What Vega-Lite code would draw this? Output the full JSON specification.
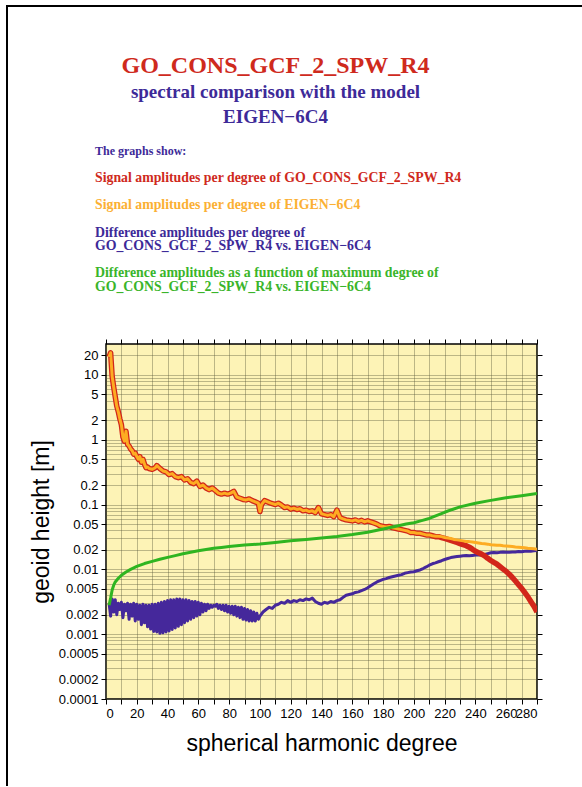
{
  "$schema": "https://vega.github.io/schema/vega-lite/v6.json",
  "background": "white",
  "padding": {"left": 6, "top": 5, "right": 0, "bottom": 0},
  "datasets": {
    "titles": [
      {"row": 0, "kind": "main", "label": "GO_CONS_GCF_2_SPW_R4"},
      {"row": 1, "kind": "sub", "label": "spectral comparison with the model"},
      {"row": 2, "kind": "sub", "label": "EIGEN−6C4"}
    ],
    "legend": [
      {"line": 0, "item": "intro", "label": "The graphs show:"},
      {"line": 2, "item": "go", "label": "Signal amplitudes per degree of GO_CONS_GCF_2_SPW_R4"},
      {"line": 4, "item": "eigen", "label": "Signal amplitudes per degree of EIGEN−6C4"},
      {"line": 6, "item": "diff", "label": "Difference amplitudes per degree of"},
      {"line": 7, "item": "diff", "label": "GO_CONS_GCF_2_SPW_R4 vs. EIGEN−6C4"},
      {"line": 9, "item": "cum", "label": "Difference amplitudes as a function of maximum degree of"},
      {"line": 10, "item": "cum", "label": "GO_CONS_GCF_2_SPW_R4 vs. EIGEN−6C4"}
    ],
    "go": [
      {"n":2,"v":19},{"n":3,"v":22},{"n":4,"v":9.5},{"n":5,"v":6.5},{"n":6,"v":4.6},{"n":7,"v":3.3},{"n":8,"v":2.7},{"n":9,"v":2.1},{"n":10,"v":1.7},{"n":11,"v":1.1},{"n":12,"v":0.95},{"n":13,"v":1.35},{"n":14,"v":0.85},{"n":15,"v":0.8},{"n":16,"v":0.72},{"n":17,"v":0.68},{"n":18,"v":0.6},{"n":19,"v":0.62},{"n":20,"v":0.55},{"n":21,"v":0.5},{"n":22,"v":0.55},{"n":23,"v":0.45},{"n":24,"v":0.5},{"n":25,"v":0.42},{"n":26,"v":0.37},{"n":27,"v":0.38},{"n":28,"v":0.36},{"n":30,"v":0.35},{"n":32,"v":0.37},{"n":33,"v":0.4},{"n":35,"v":0.36},{"n":37,"v":0.33},{"n":39,"v":0.32},{"n":41,"v":0.29},{"n":43,"v":0.3},{"n":45,"v":0.27},{"n":47,"v":0.26},{"n":49,"v":0.27},{"n":51,"v":0.24},{"n":53,"v":0.25},{"n":55,"v":0.22},{"n":57,"v":0.21},{"n":59,"v":0.23},{"n":61,"v":0.19},{"n":63,"v":0.2},{"n":65,"v":0.18},{"n":67,"v":0.17},{"n":69,"v":0.18},{"n":71,"v":0.165},{"n":73,"v":0.15},{"n":75,"v":0.145},{"n":77,"v":0.15},{"n":79,"v":0.145},{"n":81,"v":0.15},{"n":83,"v":0.16},{"n":85,"v":0.13},{"n":87,"v":0.125},{"n":89,"v":0.12},{"n":91,"v":0.118},{"n":93,"v":0.122},{"n":95,"v":0.115},{"n":97,"v":0.11},{"n":99,"v":0.105},{"n":100,"v":0.078},{"n":101,"v":0.1},{"n":103,"v":0.115},{"n":105,"v":0.11},{"n":107,"v":0.105},{"n":110,"v":0.1},{"n":112,"v":0.105},{"n":114,"v":0.098},{"n":116,"v":0.09},{"n":118,"v":0.092},{"n":120,"v":0.085},{"n":122,"v":0.088},{"n":124,"v":0.084},{"n":126,"v":0.086},{"n":128,"v":0.08},{"n":130,"v":0.082},{"n":132,"v":0.078},{"n":134,"v":0.08},{"n":136,"v":0.075},{"n":138,"v":0.09},{"n":140,"v":0.072},{"n":142,"v":0.07},{"n":144,"v":0.068},{"n":146,"v":0.07},{"n":148,"v":0.065},{"n":150,"v":0.082},{"n":152,"v":0.063},{"n":154,"v":0.06},{"n":156,"v":0.058},{"n":158,"v":0.057},{"n":160,"v":0.056},{"n":162,"v":0.058},{"n":164,"v":0.055},{"n":166,"v":0.057},{"n":168,"v":0.054},{"n":170,"v":0.056},{"n":172,"v":0.054},{"n":174,"v":0.052},{"n":176,"v":0.05},{"n":178,"v":0.047},{"n":180,"v":0.046},{"n":182,"v":0.045},{"n":184,"v":0.046},{"n":186,"v":0.044},{"n":188,"v":0.043},{"n":190,"v":0.042},{"n":192,"v":0.041},{"n":194,"v":0.04},{"n":196,"v":0.039},{"n":198,"v":0.037},{"n":200,"v":0.037},{"n":202,"v":0.036},{"n":204,"v":0.036},{"n":206,"v":0.035},{"n":208,"v":0.034},{"n":210,"v":0.034},{"n":212,"v":0.033},{"n":214,"v":0.032},{"n":216,"v":0.032},{"n":218,"v":0.031},{"n":220,"v":0.03},{"n":222,"v":0.029},{"n":224,"v":0.028},{"n":226,"v":0.027},{"n":228,"v":0.026},{"n":230,"v":0.025},{"n":232,"v":0.024},{"n":234,"v":0.0232},{"n":236,"v":0.022},{"n":238,"v":0.0205},{"n":240,"v":0.019},{"n":242,"v":0.018},{"n":244,"v":0.0172},{"n":246,"v":0.0162},{"n":248,"v":0.0148},{"n":250,"v":0.0137},{"n":252,"v":0.0128},{"n":254,"v":0.012},{"n":256,"v":0.011},{"n":258,"v":0.0101},{"n":260,"v":0.0093},{"n":262,"v":0.0084},{"n":264,"v":0.0075},{"n":266,"v":0.0066},{"n":268,"v":0.0058},{"n":270,"v":0.0051},{"n":272,"v":0.0044},{"n":274,"v":0.0038},{"n":276,"v":0.0032},{"n":278,"v":0.0027},{"n":280,"v":0.0022}
    ],
    "eigen": [
      {"n":2,"v":19},{"n":3,"v":22},{"n":4,"v":9.5},{"n":5,"v":6.5},{"n":6,"v":4.6},{"n":7,"v":3.3},{"n":8,"v":2.7},{"n":9,"v":2.1},{"n":10,"v":1.7},{"n":11,"v":1.1},{"n":12,"v":0.95},{"n":13,"v":1.35},{"n":14,"v":0.85},{"n":15,"v":0.8},{"n":16,"v":0.72},{"n":17,"v":0.68},{"n":18,"v":0.6},{"n":19,"v":0.62},{"n":20,"v":0.55},{"n":21,"v":0.5},{"n":22,"v":0.55},{"n":23,"v":0.45},{"n":24,"v":0.5},{"n":25,"v":0.42},{"n":26,"v":0.37},{"n":27,"v":0.38},{"n":28,"v":0.36},{"n":30,"v":0.35},{"n":32,"v":0.37},{"n":33,"v":0.4},{"n":35,"v":0.36},{"n":37,"v":0.33},{"n":39,"v":0.32},{"n":41,"v":0.29},{"n":43,"v":0.3},{"n":45,"v":0.27},{"n":47,"v":0.26},{"n":49,"v":0.27},{"n":51,"v":0.24},{"n":53,"v":0.25},{"n":55,"v":0.22},{"n":57,"v":0.21},{"n":59,"v":0.23},{"n":61,"v":0.19},{"n":63,"v":0.2},{"n":65,"v":0.18},{"n":67,"v":0.17},{"n":69,"v":0.18},{"n":71,"v":0.165},{"n":73,"v":0.15},{"n":75,"v":0.145},{"n":77,"v":0.15},{"n":79,"v":0.145},{"n":81,"v":0.15},{"n":83,"v":0.16},{"n":85,"v":0.13},{"n":87,"v":0.125},{"n":89,"v":0.12},{"n":91,"v":0.118},{"n":93,"v":0.122},{"n":95,"v":0.115},{"n":97,"v":0.11},{"n":99,"v":0.105},{"n":100,"v":0.078},{"n":101,"v":0.1},{"n":103,"v":0.115},{"n":105,"v":0.11},{"n":107,"v":0.105},{"n":110,"v":0.1},{"n":112,"v":0.105},{"n":114,"v":0.098},{"n":116,"v":0.09},{"n":118,"v":0.092},{"n":120,"v":0.085},{"n":122,"v":0.088},{"n":124,"v":0.084},{"n":126,"v":0.086},{"n":128,"v":0.08},{"n":130,"v":0.082},{"n":132,"v":0.078},{"n":134,"v":0.08},{"n":136,"v":0.075},{"n":138,"v":0.09},{"n":140,"v":0.072},{"n":142,"v":0.07},{"n":144,"v":0.068},{"n":146,"v":0.07},{"n":148,"v":0.065},{"n":150,"v":0.082},{"n":152,"v":0.063},{"n":154,"v":0.06},{"n":156,"v":0.058},{"n":158,"v":0.057},{"n":160,"v":0.056},{"n":162,"v":0.058},{"n":164,"v":0.055},{"n":166,"v":0.057},{"n":168,"v":0.054},{"n":170,"v":0.056},{"n":172,"v":0.054},{"n":174,"v":0.052},{"n":176,"v":0.05},{"n":178,"v":0.047},{"n":180,"v":0.046},{"n":182,"v":0.045},{"n":184,"v":0.046},{"n":186,"v":0.044},{"n":188,"v":0.043},{"n":190,"v":0.042},{"n":192,"v":0.041},{"n":194,"v":0.04},{"n":196,"v":0.039},{"n":198,"v":0.037},{"n":200,"v":0.037},{"n":202,"v":0.036},{"n":204,"v":0.036},{"n":206,"v":0.035},{"n":208,"v":0.034},{"n":210,"v":0.034},{"n":212,"v":0.033},{"n":214,"v":0.0325},{"n":216,"v":0.0325},{"n":218,"v":0.032},{"n":220,"v":0.031},{"n":222,"v":0.0305},{"n":224,"v":0.03},{"n":226,"v":0.029},{"n":228,"v":0.0285},{"n":230,"v":0.028},{"n":232,"v":0.0275},{"n":234,"v":0.027},{"n":236,"v":0.0268},{"n":238,"v":0.0265},{"n":240,"v":0.026},{"n":242,"v":0.0255},{"n":244,"v":0.025},{"n":246,"v":0.0248},{"n":248,"v":0.0245},{"n":250,"v":0.024},{"n":252,"v":0.0238},{"n":254,"v":0.0235},{"n":256,"v":0.0236},{"n":258,"v":0.0232},{"n":260,"v":0.023},{"n":262,"v":0.0228},{"n":264,"v":0.0225},{"n":266,"v":0.0222},{"n":268,"v":0.022},{"n":270,"v":0.0218},{"n":272,"v":0.0215},{"n":274,"v":0.0212},{"n":276,"v":0.021},{"n":278,"v":0.0208},{"n":280,"v":0.0205}
    ],
    "diff": [
      {"n":2,"v":0.003},{"n":3,"v":0.0019},{"n":4,"v":0.0035},{"n":5,"v":0.0022},{"n":6,"v":0.0034},{"n":7,"v":0.002},{"n":8,"v":0.003},{"n":9,"v":0.0024},{"n":10,"v":0.0031},{"n":11,"v":0.0018},{"n":12,"v":0.0029},{"n":13,"v":0.0023},{"n":14,"v":0.003},{"n":15,"v":0.0017},{"n":16,"v":0.0029},{"n":17,"v":0.0019},{"n":18,"v":0.003},{"n":19,"v":0.0016},{"n":20,"v":0.0029},{"n":21,"v":0.0017},{"n":22,"v":0.0028},{"n":23,"v":0.0014},{"n":24,"v":0.0029},{"n":25,"v":0.0015},{"n":26,"v":0.0028},{"n":27,"v":0.0013},{"n":28,"v":0.0028},{"n":29,"v":0.0012},{"n":30,"v":0.0029},{"n":31,"v":0.0011},{"n":32,"v":0.0029},{"n":33,"v":0.00108},{"n":34,"v":0.003},{"n":35,"v":0.00103},{"n":36,"v":0.0031},{"n":37,"v":0.00105},{"n":38,"v":0.0032},{"n":39,"v":0.00108},{"n":40,"v":0.0033},{"n":41,"v":0.00112},{"n":42,"v":0.0034},{"n":43,"v":0.00118},{"n":44,"v":0.0034},{"n":45,"v":0.00125},{"n":46,"v":0.0035},{"n":47,"v":0.00132},{"n":48,"v":0.0035},{"n":49,"v":0.0014},{"n":50,"v":0.0034},{"n":51,"v":0.0015},{"n":52,"v":0.0034},{"n":53,"v":0.0016},{"n":54,"v":0.0033},{"n":55,"v":0.0017},{"n":56,"v":0.0032},{"n":57,"v":0.0018},{"n":58,"v":0.0032},{"n":59,"v":0.0019},{"n":60,"v":0.0031},{"n":61,"v":0.002},{"n":62,"v":0.003},{"n":63,"v":0.0022},{"n":64,"v":0.0029},{"n":65,"v":0.0023},{"n":66,"v":0.0029},{"n":67,"v":0.0025},{"n":68,"v":0.0028},{"n":69,"v":0.0026},{"n":70,"v":0.0028},{"n":71,"v":0.0027},{"n":72,"v":0.0029},{"n":73,"v":0.0025},{"n":74,"v":0.0028},{"n":75,"v":0.0024},{"n":76,"v":0.0028},{"n":77,"v":0.0023},{"n":78,"v":0.0028},{"n":79,"v":0.0022},{"n":80,"v":0.0027},{"n":81,"v":0.0021},{"n":82,"v":0.0027},{"n":83,"v":0.002},{"n":84,"v":0.0027},{"n":85,"v":0.0019},{"n":86,"v":0.0026},{"n":87,"v":0.0018},{"n":88,"v":0.0026},{"n":89,"v":0.0017},{"n":90,"v":0.0025},{"n":91,"v":0.00165},{"n":92,"v":0.0024},{"n":93,"v":0.0016},{"n":94,"v":0.0023},{"n":95,"v":0.0016},{"n":96,"v":0.0022},{"n":97,"v":0.0016},{"n":98,"v":0.0021},{"n":99,"v":0.0017},{"n":100,"v":0.0019},
      {"n":102,"v":0.0022},{"n":104,"v":0.0024},{"n":106,"v":0.0026},{"n":108,"v":0.0025},{"n":110,"v":0.0028},{"n":112,"v":0.0029},{"n":114,"v":0.0031},{"n":116,"v":0.003},{"n":118,"v":0.0033},{"n":120,"v":0.0031},{"n":122,"v":0.0033},{"n":124,"v":0.0032},{"n":126,"v":0.0034},{"n":128,"v":0.0033},{"n":130,"v":0.0035},{"n":132,"v":0.0034},{"n":134,"v":0.0036},{"n":136,"v":0.0032},{"n":138,"v":0.003},{"n":140,"v":0.0029},{"n":142,"v":0.0031},{"n":144,"v":0.003},{"n":146,"v":0.0032},{"n":148,"v":0.0031},{"n":150,"v":0.0033},{"n":152,"v":0.0034},{"n":154,"v":0.0037},{"n":156,"v":0.004},{"n":158,"v":0.0041},{"n":160,"v":0.0042},{"n":162,"v":0.0044},{"n":164,"v":0.0045},{"n":166,"v":0.0047},{"n":168,"v":0.0049},{"n":170,"v":0.0052},{"n":172,"v":0.0056},{"n":174,"v":0.006},{"n":176,"v":0.0064},{"n":178,"v":0.0067},{"n":180,"v":0.007},{"n":182,"v":0.0072},{"n":184,"v":0.0075},{"n":186,"v":0.0077},{"n":188,"v":0.0079},{"n":190,"v":0.0081},{"n":192,"v":0.0083},{"n":194,"v":0.0087},{"n":196,"v":0.0089},{"n":198,"v":0.0091},{"n":200,"v":0.0092},{"n":202,"v":0.0095},{"n":204,"v":0.0098},{"n":206,"v":0.0103},{"n":208,"v":0.0109},{"n":210,"v":0.0116},{"n":212,"v":0.0122},{"n":214,"v":0.0126},{"n":216,"v":0.0131},{"n":218,"v":0.0136},{"n":220,"v":0.0142},{"n":222,"v":0.0147},{"n":224,"v":0.0152},{"n":226,"v":0.0155},{"n":228,"v":0.0158},{"n":230,"v":0.016},{"n":232,"v":0.0162},{"n":234,"v":0.0163},{"n":236,"v":0.0162},{"n":238,"v":0.0164},{"n":240,"v":0.0166},{"n":242,"v":0.0168},{"n":244,"v":0.0167},{"n":246,"v":0.017},{"n":248,"v":0.0175},{"n":250,"v":0.018},{"n":252,"v":0.0182},{"n":254,"v":0.018},{"n":256,"v":0.0183},{"n":258,"v":0.0185},{"n":260,"v":0.0184},{"n":262,"v":0.0183},{"n":264,"v":0.0185},{"n":266,"v":0.0186},{"n":268,"v":0.0188},{"n":270,"v":0.0187},{"n":272,"v":0.019},{"n":274,"v":0.0192},{"n":276,"v":0.0191},{"n":278,"v":0.0193},{"n":280,"v":0.0195}
    ],
    "cum": [
      {"n":2,"v":0.0028},{"n":3,"v":0.0036},{"n":4,"v":0.0048},{"n":5,"v":0.0057},{"n":6,"v":0.0064},{"n":8,"v":0.0073},{"n":10,"v":0.0081},{"n":13,"v":0.0091},{"n":16,"v":0.01},{"n":20,"v":0.0111},{"n":25,"v":0.0123},{"n":30,"v":0.0133},{"n":35,"v":0.0143},{"n":40,"v":0.0153},{"n":45,"v":0.0163},{"n":50,"v":0.0174},{"n":55,"v":0.0184},{"n":60,"v":0.0194},{"n":65,"v":0.0203},{"n":70,"v":0.0211},{"n":75,"v":0.0218},{"n":80,"v":0.0226},{"n":85,"v":0.0232},{"n":90,"v":0.0238},{"n":95,"v":0.0242},{"n":100,"v":0.0246},{"n":110,"v":0.026},{"n":120,"v":0.0277},{"n":130,"v":0.029},{"n":140,"v":0.0305},{"n":150,"v":0.0322},{"n":160,"v":0.0345},{"n":170,"v":0.0375},{"n":180,"v":0.042},{"n":190,"v":0.047},{"n":195,"v":0.05},{"n":200,"v":0.0525},{"n":205,"v":0.0565},{"n":210,"v":0.061},{"n":215,"v":0.068},{"n":220,"v":0.076},{"n":225,"v":0.084},{"n":230,"v":0.092},{"n":240,"v":0.105},{"n":250,"v":0.116},{"n":260,"v":0.127},{"n":270,"v":0.137},{"n":280,"v":0.148}
    ]
  },
  "spacing": 0,
  "vconcat": [
    {
      "width": 576,
      "height": 2,
      "view": {"stroke": null},
      "data": {"values": [{}]},
      "mark": {"type": "rect", "color": "#000000"},
      "encoding": {}
    },
    {
      "spacing": 21,
      "hconcat": [
        {
          "width": 2,
          "height": 779,
          "view": {"stroke": null},
          "data": {"values": [{}]},
          "mark": {"type": "rect", "color": "#000000"},
          "encoding": {}
        },
        {
          "spacing": 0,
          "vconcat": [
            {
              "width": 431,
              "height": 330,
              "view": {"stroke": null},
              "resolve": {"scale": {"y": "independent", "color": "independent"}},
              "layer": [
                {
                  "data": {"name": "titles"},
                  "mark": {"type": "text", "align": "center", "baseline": "alphabetic", "font": "Liberation Serif", "fontWeight": "bold", "dx": -46},
                  "encoding": {
                    "x": {"datum": 140, "type": "quantitative", "scale": {"domain": [0, 280], "nice": false}, "axis": null},
                    "y": {"field": "row", "type": "quantitative", "scale": {"domain": [-2.619, 10.476], "nice": false, "zero": false, "reverse": true}, "axis": null},
                    "text": {"field": "label"},
                    "color": {"field": "kind", "type": "nominal", "scale": {"domain": ["main", "sub"], "range": ["#cf2a1d", "#3d2a98"]}, "legend": null},
                    "size": {"condition": {"test": "datum.kind === 'main'", "value": 24}, "value": 19}
                  }
                },
                {
                  "data": {"name": "legend"},
                  "mark": {"type": "text", "align": "left", "baseline": "alphabetic", "font": "Liberation Serif", "fontWeight": "bold", "dx": -11},
                  "encoding": {
                    "x": {"datum": 0, "type": "quantitative", "axis": null},
                    "y": {"field": "line", "type": "quantitative", "scale": {"domain": [-10.882, 13.382], "nice": false, "zero": false, "reverse": true}, "axis": null},
                    "text": {"field": "label"},
                    "color": {"field": "item", "type": "nominal", "scale": {"domain": ["intro", "go", "eigen", "diff", "cum"], "range": ["#3d2a98", "#cf2a1d", "#fbb034", "#3d2a98", "#3ab52a"]}, "legend": null},
                    "size": {"condition": {"test": "datum.item === 'intro'", "value": 12}, "value": 13.8}
                  }
                }
              ]
            },
            {
              "width": 431,
              "height": 355,
              "view": {"stroke": "#000000", "strokeWidth": 1.5, "fill": "#fdf3b6"},
              "resolve": {"axis": {"x": "independent", "y": "independent"}},
              "layer": [
                {
                  "data": {"name": "diff"},
                  "mark": {"type": "line", "color": "#45289b", "strokeWidth": 3, "strokeJoin": "round", "clip": true},
                  "encoding": {
                    "x": {"field": "n", "type": "quantitative", "scale": {"domain": [0, 280], "nice": false},
                      "axis": {"orient": "bottom", "values": [0,10,20,30,40,50,60,70,80,90,100,110,120,130,140,150,160,170,180,190,200,210,220,230,240,250,260,270,280],
                        "labelExpr": "datum.value % 20 === 0 ? datum.label : ''", "labelOverlap": false, "grid": true, "domain": false,
                        "title": "spherical harmonic degree", "titleFontSize": 23, "titleFontWeight": "normal", "titleFont": "Liberation Sans", "titleColor": "#000000", "titlePadding": 12}},
                    "y": {"field": "v", "type": "quantitative", "scale": {"type": "log", "domain": [0.0001, 30], "nice": false},
                      "axis": {"orient": "left", "values": [20,10,5,2,1,0.5,0.2,0.1,0.05,0.02,0.01,0.005,0.002,0.001,0.0005,0.0002,0.0001],
                        "format": "~g", "labelOverlap": false, "grid": false, "domain": false,
                        "title": "geoid height [m]", "titleFontSize": 23, "titleFontWeight": "normal", "titleFont": "Liberation Sans", "titleColor": "#000000", "titlePadding": 5}}
                  }
                },
                {
                  "data": {"name": "go"},
                  "mark": {"type": "line", "color": "#d2261a", "strokeWidth": 5.5, "strokeJoin": "round", "clip": true},
                  "encoding": {
                    "x": {"field": "n", "type": "quantitative",
                      "axis": {"orient": "top", "values": [0,10,20,30,40,50,60,70,80,90,100,110,120,130,140,150,160,170,180,190,200,210,220,230,240,250,260,270,280], "labels": false, "grid": false, "domain": false, "title": null}},
                    "y": {"field": "v", "type": "quantitative",
                      "axis": {"orient": "right", "values": [20,10,5,2,1,0.5,0.2,0.1,0.05,0.02,0.01,0.005,0.002,0.001,0.0005,0.0002,0.0001], "labels": false, "grid": false, "domain": false, "title": null}}
                  }
                },
                {
                  "data": {"name": "eigen"},
                  "mark": {"type": "line", "color": "#fdac22", "strokeWidth": 3, "strokeJoin": "round", "clip": true},
                  "encoding": {
                    "x": {"field": "n", "type": "quantitative", "axis": null},
                    "y": {"field": "v", "type": "quantitative",
                      "axis": {"orient": "left", "values": [0.0001,0.0002,0.0003,0.0004,0.0005,0.0006,0.0007,0.0008,0.0009,0.001,0.002,0.003,0.004,0.005,0.006,0.007,0.008,0.009,0.01,0.02,0.03,0.04,0.05,0.06,0.07,0.08,0.09,0.1,0.2,0.3,0.4,0.5,0.6,0.7,0.8,0.9,1,2,3,4,5,6,7,8,9,10,20],
                        "labels": false, "ticks": false, "domain": false, "grid": true, "title": null}}
                  }
                },
                {
                  "data": {"name": "cum"},
                  "mark": {"type": "line", "color": "#2fb521", "strokeWidth": 3, "strokeJoin": "round", "clip": true},
                  "encoding": {
                    "x": {"field": "n", "type": "quantitative", "axis": null},
                    "y": {"field": "v", "type": "quantitative", "axis": null}
                  }
                }
              ]
            }
          ]
        }
      ]
    }
  ],
  "config": {
    "axis": {
      "labelFont": "Liberation Sans",
      "labelFontSize": 13,
      "labelColor": "#000000",
      "labelPadding": 3,
      "tickColor": "#000000",
      "tickSize": 5,
      "tickWidth": 1,
      "gridColor": "#5a5a3c",
      "gridOpacity": 0.5,
      "gridWidth": 0.8
    }
  }
}
